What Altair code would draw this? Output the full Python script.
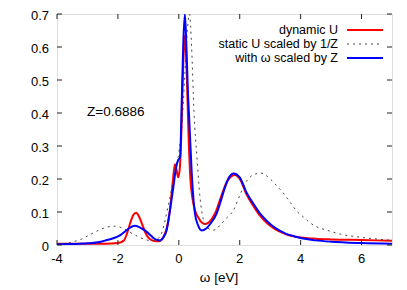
import altair as alt
import pandas as pd

# dynamic U (red)
red_w = [-4, -3, -2.4, -2.0, -1.8, -1.7, -1.6, -1.5, -1.4, -1.3, -1.2, -1.1, -1.0, -0.9, -0.8,
         -0.7, -0.6, -0.5, -0.4, -0.3, -0.2, -0.13, -0.07, -0.02, 0.03, 0.08, 0.13, 0.2, 0.26,
         0.32, 0.38, 0.45, 0.55, 0.65, 0.75, 0.86, 1.0, 1.2, 1.4, 1.6, 1.85, 2.0, 2.23, 2.45,
         2.67, 2.9, 3.1, 3.3, 3.54, 3.8, 4.0, 4.5, 5.0, 6.0, 7.0]
red_v = [0.004, 0.004, 0.004, 0.006, 0.014, 0.035, 0.065, 0.09, 0.098, 0.085, 0.062, 0.038, 0.022,
         0.015, 0.012, 0.011, 0.013, 0.025, 0.05, 0.1, 0.19, 0.245, 0.225, 0.205, 0.23, 0.33, 0.5,
         0.635, 0.52, 0.33, 0.2, 0.14, 0.1, 0.082, 0.068, 0.064, 0.07, 0.098, 0.15, 0.195, 0.212,
         0.2, 0.152, 0.118, 0.088, 0.066, 0.052, 0.041, 0.032, 0.026, 0.023, 0.019, 0.017, 0.015,
         0.013]

# static U scaled by 1/Z (dotted)
dot_w = [-4, -3.56, -3.2, -2.9, -2.6, -2.36, -2.1, -1.9, -1.7, -1.5, -1.3, -1.15, -1.0, -0.85,
         -0.7, -0.55, -0.45, -0.3, -0.15, 0.0, 0.1, 0.2, 0.28, 0.35, 0.42, 0.5, 0.6, 0.7, 0.8,
         0.95, 1.1, 1.2, 1.35, 1.55, 1.79, 2.0, 2.17, 2.4, 2.69, 3.0, 3.21, 3.45, 3.65, 3.9,
         4.09, 4.3, 4.53, 4.86, 5.3, 5.84, 6.4, 7.0]
dot_v = [0.002, 0.008, 0.018, 0.032, 0.046, 0.054, 0.057, 0.053, 0.044, 0.033, 0.024, 0.018,
         0.014, 0.013, 0.018, 0.04, 0.075, 0.14, 0.21, 0.28, 0.36, 0.52, 0.65, 0.70, 0.6, 0.4,
         0.26, 0.14, 0.08, 0.052, 0.045, 0.046, 0.06, 0.08, 0.105, 0.15, 0.185, 0.21, 0.218,
         0.2, 0.18, 0.155, 0.13, 0.1, 0.085, 0.068, 0.055, 0.045, 0.033, 0.025, 0.019, 0.014]

# with omega scaled by Z (blue)
blue_w = [-4, -3.5, -3.0, -2.6, -2.36, -2.1, -1.92, -1.75, -1.6, -1.45, -1.3, -1.15, -1.04, -0.9,
          -0.8, -0.7, -0.62, -0.5, -0.4, -0.29, -0.18, -0.09, -0.02, 0.04, 0.1, 0.15, 0.2, 0.25,
          0.3, 0.345, 0.42, 0.53, 0.63, 0.75, 0.9, 1.05, 1.24, 1.35, 1.5, 1.65, 1.8, 2.0, 2.23,
          2.45, 2.67, 2.9, 3.1, 3.3, 3.54, 3.8, 4.0, 4.5, 5.0, 6.0, 7.0]
blue_v = [0.002, 0.003, 0.005, 0.009, 0.015, 0.022, 0.03, 0.042, 0.053, 0.058, 0.054, 0.046,
          0.039, 0.027, 0.019, 0.015, 0.014, 0.024, 0.045, 0.105, 0.175, 0.235, 0.258, 0.265,
          0.45, 0.62, 0.70, 0.6, 0.46, 0.375, 0.225, 0.095, 0.06, 0.044, 0.05, 0.066, 0.095,
          0.125, 0.17, 0.205, 0.217, 0.205, 0.158, 0.125, 0.095, 0.072, 0.056, 0.044, 0.033,
          0.026, 0.021, 0.014, 0.01, 0.006, 0.004]

x_ticks = [-4, -2, 0, 2, 4, 6]
x_labels = ["-4", "-2", "0", "2", "4", "6"]
y_ticks = [0, 0.1, 0.2, 0.3, 0.4, 0.5, 0.6, 0.7]
y_labels = ["0", "0.1", "0.2", "0.3", "0.4", "0.5", "0.6", "0.7"]

legend_labels = ["dynamic U", "static U scaled by 1/Z", "with \u03c9 scaled by Z"]
annotation = "Z=0.6886"
x_title = "\u03c9 [eV]"

FONT = "Liberation Sans"
W, H = 335, 231
TOP = 6  # plot top at page y = 8 + TOP

xs = alt.Scale(domain=[-4, 7], nice=False, zero=False)
ys = alt.Scale(domain=[0, 0.7], nice=False)

red_df = pd.DataFrame({"w": red_w, "v": red_v})
dot_df = pd.DataFrame({"w": dot_w, "v": dot_v})
blue_df = pd.DataFrame({"w": blue_w, "v": blue_v})

X = lambda f: alt.X(f, scale=xs, axis=None)
Y = lambda f: alt.Y(f, scale=ys, axis=None)

red = alt.Chart(red_df).mark_line(color="#ff0000", strokeWidth=2, interpolate="monotone",
                                  clip=True).encode(x=X("w:Q"), y=Y("v:Q"))
dot = alt.Chart(dot_df).mark_line(color="#444444", strokeWidth=1, strokeDash=[2, 4],
                                  interpolate="monotone", clip=True).encode(x=X("w:Q"), y=Y("v:Q"))
blue = alt.Chart(blue_df).mark_line(color="#0000ff", strokeWidth=2, interpolate="monotone",
                                    clip=True).encode(x=X("w:Q"), y=Y("v:Q"))

xt_df = pd.DataFrame({"t": x_ticks, "lab": x_labels})
yt_df = pd.DataFrame({"t": y_ticks, "lab": y_labels})
tick_bottom = alt.Chart(xt_df).mark_rule(color="#222", strokeWidth=1).encode(
    x=X("t:Q"), y=alt.value(H), y2=alt.value(H - 5))
tick_top = alt.Chart(xt_df).mark_rule(color="#222", strokeWidth=1).encode(
    x=X("t:Q"), y=alt.value(0), y2=alt.value(5))
tick_left = alt.Chart(yt_df).mark_rule(color="#222", strokeWidth=1).encode(
    y=Y("t:Q"), x=alt.value(0), x2=alt.value(5))
tick_right = alt.Chart(yt_df).mark_rule(color="#222", strokeWidth=1).encode(
    y=Y("t:Q"), x=alt.value(W), x2=alt.value(W - 5))

xlab = alt.Chart(xt_df).mark_text(align="center", baseline="middle", fontSize=13,
                                  font=FONT, color="black").encode(
    x=X("t:Q"), y=alt.value(H + 14), text="lab:N")
ylab = alt.Chart(yt_df).mark_text(align="right", baseline="middle", fontSize=13, dy=2,
                                  font=FONT, color="black").encode(
    y=Y("t:Q"), x=alt.value(-8), text="lab:N")

leg_y = [16, 30, 44]
leg_colors = ["#ff0000", "#444444", "#0000ff"]
leg_layers = []
for i, lab in enumerate(legend_labels):
    d = pd.DataFrame({"label": [lab]})
    leg_layers.append(alt.Chart(d).mark_text(align="right", baseline="middle", fontSize=12.5,
                                             font=FONT, color="black").encode(
        text="label:N", x=alt.value(281), y=alt.value(leg_y[i])))
    if i == 1:
        leg_layers.append(alt.Chart(d).mark_rule(color=leg_colors[i], strokeWidth=1,
                                                 strokeDash=[2, 4]).encode(
            x=alt.value(290), x2=alt.value(326), y=alt.value(leg_y[i])))
    else:
        leg_layers.append(alt.Chart(d).mark_rule(color=leg_colors[i], strokeWidth=2).encode(
            x=alt.value(290), x2=alt.value(326), y=alt.value(leg_y[i])))

ann = alt.Chart(pd.DataFrame({"t": [annotation]})).mark_text(
    align="left", baseline="middle", fontSize=13.5, font=FONT, color="black").encode(
    text="t:N", x=alt.value(30), y=alt.value(98))
xtitle = alt.Chart(pd.DataFrame({"t": [x_title]})).mark_text(
    align="center", baseline="middle", fontSize=13.5, font=FONT, color="black").encode(
    text="t:N", x=alt.value(162), y=alt.value(264))

chart = alt.layer(red, dot, blue, tick_bottom, tick_top, tick_left, tick_right,
                  xlab, ylab, *leg_layers, ann, xtitle).properties(
    width=W, height=H,
    autosize=alt.AutoSizeParams(type="none"),
    padding={"left": 49, "top": TOP, "right": 7, "bottom": 45},
).configure_view(stroke="#333", strokeWidth=1).configure(background="white")

chart.save("out.html", embed_options={"renderer": "svg", "actions": False})
